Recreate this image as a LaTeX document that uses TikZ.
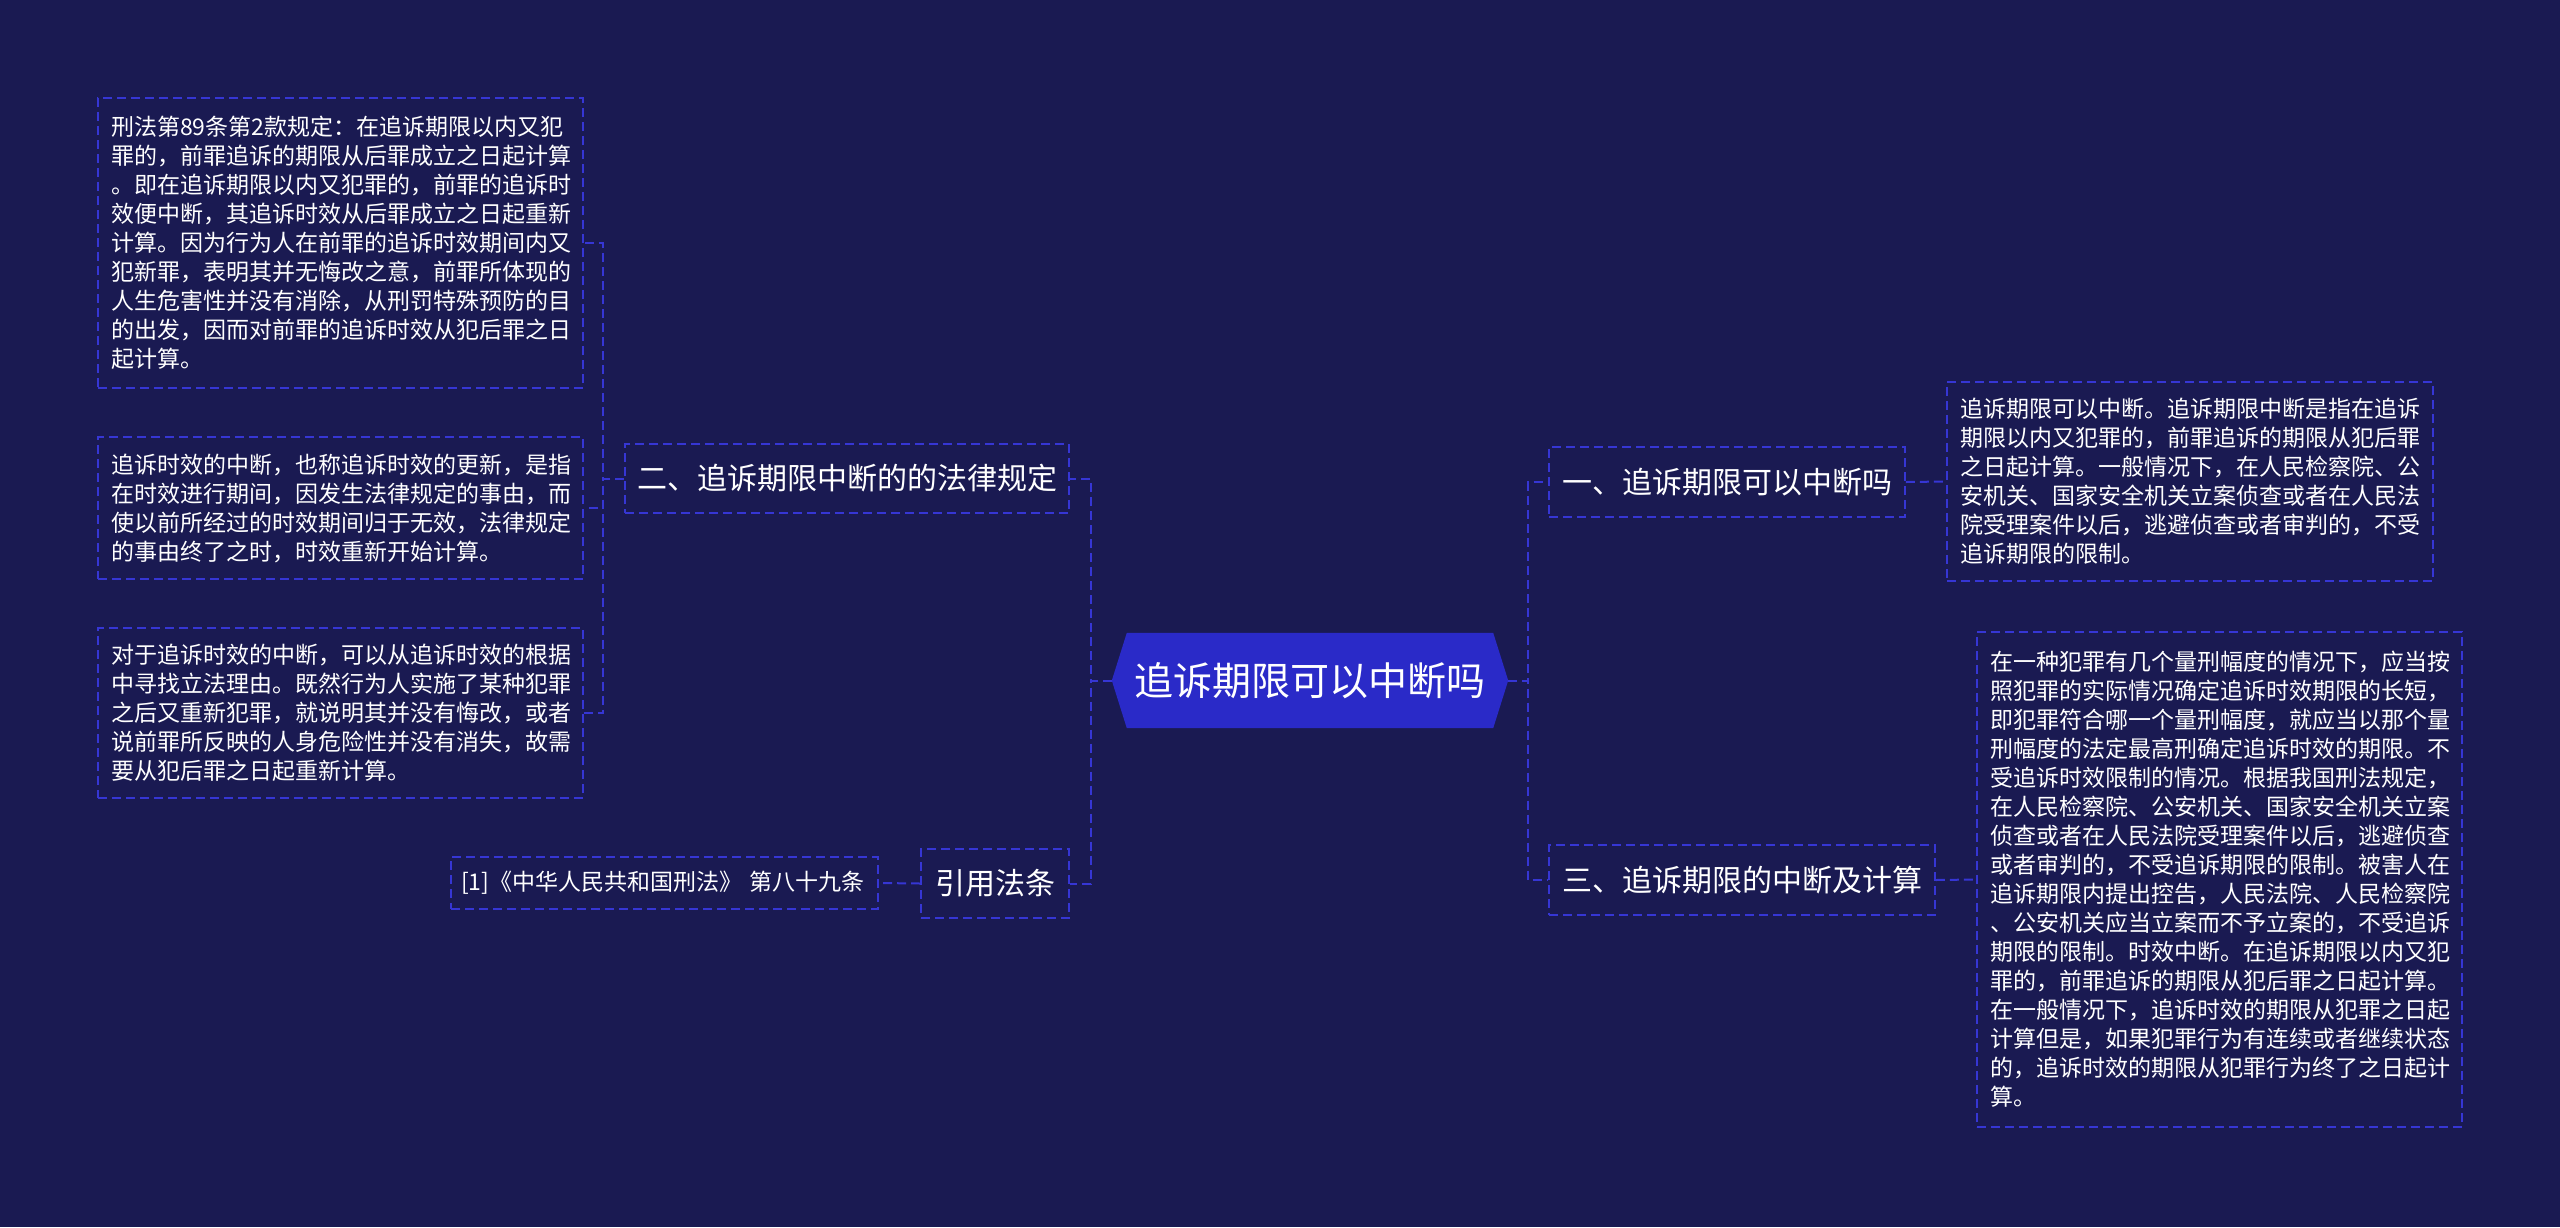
\documentclass[tikz,border=0pt]{standalone}
\usepackage{fontspec}
\newfontfamily\cjk{Noto Sans CJK SC}
\definecolor{bgc}{HTML}{1A1A52}
\definecolor{hexc}{HTML}{2A2AC8}
\definecolor{dashc}{HTML}{3636D4}
\pgfdeclarelayer{back}
\pgfdeclarelayer{bg}
\pgfsetlayers{back,bg,main}
\tikzset{
  conn/.style={draw=dashc, line width=2pt, dash pattern=on 9pt off 5pt},
  leafbox/.style={draw=dashc, line width=1.6pt, dash pattern=on 9pt off 5pt,
    text=white, align=left, inner xsep=13pt, inner ysep=0pt,
    font=\cjk\fontsize{23}{29}\selectfont},
  topic/.style={draw=dashc, line width=1.6pt, dash pattern=on 9pt off 5pt,
    text=white, inner xsep=10pt, inner ysep=0pt, minimum height=69pt,
    font=\cjk\fontsize{30}{36}\selectfont},
  centre/.style={text=white, minimum width=396pt, minimum height=95pt,
    inner sep=0pt, font=\cjk\fontsize{39}{47}\selectfont},
}
\begin{document}
\begin{tikzpicture}[x=1pt,y=-1pt]
\useasboundingbox (0,0) rectangle (2560,1227);
\begin{pgfonlayer}{back}
\fill[bgc] (0,0) rectangle (2560,1227);
\end{pgfonlayer}

% centre
\node[centre] (c) at (1310,680.5) {追诉期限可以中断吗};
\begin{pgfonlayer}{bg}
\fill[hexc] (c.west) -- ([xshift=15pt]c.north west) -- ([xshift=-15pt]c.north east)
  -- (c.east) -- ([xshift=-15pt]c.south east) -- ([xshift=15pt]c.south west) -- cycle;
\end{pgfonlayer}

% level 1
\node[topic, minimum width=444pt] (b2) at (847,478.5) {二、追诉期限中断的的法律规定};
\node[topic, minimum width=148pt] (b4) at (995,883.5) {引用法条};
\node[topic, minimum width=356pt, minimum height=70pt] (b1) at (1727,482) {一、追诉期限可以中断吗};
\node[topic, minimum width=386pt, minimum height=70pt] (b3) at (1742,880) {三、追诉期限的中断及计算};

% leaves
\node[leafbox, text width=459pt, minimum height=290pt] (l1) at (340.5,243) {刑法第89条第2款规定：在追诉期限以内又犯\\
罪的，前罪追诉的期限从后罪成立之日起计算\\
。即在追诉期限以内又犯罪的，前罪的追诉时\\
效便中断，其追诉时效从后罪成立之日起重新\\
计算。因为行为人在前罪的追诉时效期间内又\\
犯新罪，表明其并无悔改之意，前罪所体现的\\
人生危害性并没有消除，从刑罚特殊预防的目\\
的出发，因而对前罪的追诉时效从犯后罪之日\\
起计算。};
\node[leafbox, text width=459pt, minimum height=142pt] (l2) at (340.5,508) {追诉时效的中断，也称追诉时效的更新，是指\\
在时效进行期间，因发生法律规定的事由，而\\
使以前所经过的时效期间归于无效，法律规定\\
的事由终了之时，时效重新开始计算。};
\node[leafbox, text width=407pt, inner xsep=10pt, minimum height=52pt] (ref) at (664.5,883) {[1]《中华人民共和国刑法》~第八十九条};
\node[leafbox, text width=459pt, minimum height=170pt] (l3) at (340.5,713) {对于追诉时效的中断，可以从追诉时效的根据\\
中寻找立法理由。既然行为人实施了某种犯罪\\
之后又重新犯罪，就说明其并没有悔改，或者\\
说前罪所反映的人身危险性并没有消失，故需\\
要从犯后罪之日起重新计算。};
\node[leafbox, text width=460pt, minimum height=199pt] (r1) at (2190,481.5) {追诉期限可以中断。追诉期限中断是指在追诉\\
期限以内又犯罪的，前罪追诉的期限从犯后罪\\
之日起计算。一般情况下，在人民检察院、公\\
安机关、国家安全机关立案侦查或者在人民法\\
院受理案件以后，逃避侦查或者审判的，不受\\
追诉期限的限制。};
\node[leafbox, text width=459pt, minimum height=495pt] (r3) at (2219.5,879.5) {在一种犯罪有几个量刑幅度的情况下，应当按\\
照犯罪的实际情况确定追诉时效期限的长短，\\
即犯罪符合哪一个量刑幅度，就应当以那个量\\
刑幅度的法定最高刑确定追诉时效的期限。不\\
受追诉时效限制的情况。根据我国刑法规定，\\
在人民检察院、公安机关、国家安全机关立案\\
侦查或者在人民法院受理案件以后，逃避侦查\\
或者审判的，不受追诉期限的限制。被害人在\\
追诉期限内提出控告，人民法院、人民检察院\\
、公安机关应当立案而不予立案的，不受追诉\\
期限的限制。时效中断。在追诉期限以内又犯\\
罪的，前罪追诉的期限从犯后罪之日起计算。\\
在一般情况下，追诉时效的期限从犯罪之日起\\
计算但是，如果犯罪行为有连续或者继续状态\\
的，追诉时效的期限从犯罪行为终了之日起计\\
算。};

% connectors
\draw[conn] (c.west) -- ++(-21,0) |- (b2.east);
\draw[conn] (c.west) -- ++(-21,0) |- (b4.east);
\draw[conn] (c.east) -- ++(20,0) |- (b1.west);
\draw[conn] (c.east) -- ++(20,0) |- (b3.west);
\draw[conn] (b2.west) -- ++(-21,0) |- (l1.east);
\draw[conn] (b2.west) -- ++(-21,0) |- (l2.east);
\draw[conn] (b2.west) -- ++(-21,0) |- (l3.east);
\draw[conn] (b4.west) -- (ref.east);
\draw[conn] (b1.east) -- (r1.west);
\draw[conn] (b3.east) -- (r3.west);
\end{tikzpicture}
\end{document}
